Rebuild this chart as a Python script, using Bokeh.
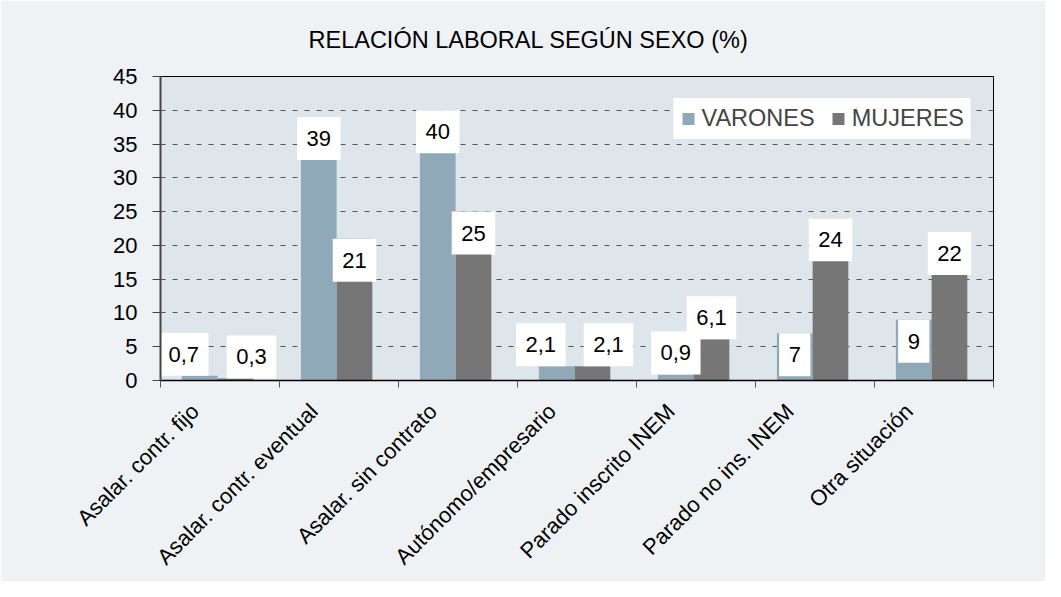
from bokeh.plotting import figure
from bokeh.models import (Range1d, FixedTicker, ColumnDataSource, Title, Legend, LegendItem)
from bokeh.core.properties import value
from bokeh.embed import file_html
from bokeh.resources import INLINE
import math

# ---- data ----
categories = ["Asalar. contr. fijo", "Asalar. contr. eventual", "Asalar. sin contrato",
              "Autónomo/empresario", "Parado inscrito INEM", "Parado no ins. INEM",
              "Otra situación"]
varones = [0.7, 39, 40, 2.1, 0.9, 7, 9]
mujeres = [0.3, 21, 25, 2.1, 6.1, 24, 22]
series_names = ["VARONES", "MUJERES"]
y_ticks = [0, 5, 10, 15, 20, 25, 30, 35, 40, 45]

# ---- style ----
FONT = "Liberation Sans"
C_VAR = "#8FA9B8"
C_MUJ = "#767676"
BG_OUT = "#EEF2F5"
BG_PLOT = "#DEE5EB"
W, H = 1045, 581
ML, MR, MT, MB = 160, 52, 76, 201
FRAME_W = W - ML - MR
FRAME_H = H - MT - MB
YMAX = 45
n = len(categories)
PPU = FRAME_H / YMAX
PPX = FRAME_W / n
BOX_H = 43
PAD_X = 9.5
LBL_PX = 22
OFF_V, OFF_M, BW = -0.17, 0.13, 0.3
CHAR_EM = {",": 0.278, ".": 0.278}

p = figure(width=W, height=H, output_backend="svg", toolbar_location=None,
           x_range=Range1d(0, n), y_range=Range1d(0, YMAX),
           min_border_left=ML, min_border_right=MR, min_border_top=MT, min_border_bottom=MB,
           background_fill_color=BG_PLOT, border_fill_color=BG_OUT,
           outline_line_color="black", outline_line_width=1)

xv = [i + 0.5 + OFF_V for i in range(n)]
xm = [i + 0.5 + OFF_M for i in range(n)]
src = ColumnDataSource(dict(xv=xv, xm=xm, v=varones, m=mujeres))
rv = p.vbar(x="xv", top="v", width=BW, source=src, fill_color=C_VAR, line_color=None)
rm = p.vbar(x="xm", top="m", width=BW, source=src, fill_color=C_MUJ, line_color=None)

# x axis: category names on (invisible) major ticks, boundary marks as minor ticks
LABEL_SHIFT = -0.21
xa = p.xaxis[0]
xa.ticker = FixedTicker(ticks=[i + 0.5 + LABEL_SHIFT for i in range(n)],
                        minor_ticks=list(range(n + 1)))
xa.major_label_overrides = {i + 0.5 + LABEL_SHIFT: c for i, c in enumerate(categories)}
xa.major_label_orientation = math.pi / 4
xa.major_tick_out = 0
xa.major_tick_in = 0
xa.minor_tick_out = 7
xa.minor_tick_in = 0
xa.minor_tick_line_color = "#555555"
xa.axis_line_color = "black"
xa.axis_line_width = 1.5
xa.major_label_text_font = FONT
xa.major_label_text_font_size = "22px"
xa.major_label_text_color = "black"
xa.major_label_standoff = 20

ya = p.yaxis[0]
ya.ticker = FixedTicker(ticks=y_ticks)
ya.major_tick_out = 8
ya.major_tick_in = 0
ya.minor_tick_out = 0
ya.minor_tick_in = 0
ya.major_tick_line_color = "#444444"
ya.axis_line_color = "#444444"
ya.axis_line_width = 2
ya.major_label_text_font = FONT
ya.major_label_text_font_size = "22px"
ya.major_label_text_color = "black"
ya.major_label_standoff = 15

p.xgrid.visible = False
p.ygrid.grid_line_color = "#555555"
p.ygrid.grid_line_dash = "5 7"
p.ygrid.grid_line_width = 1

# title
t = Title(text="RELACIÓN LABORAL SEGÚN SEXO (%)", align="left", offset=148,
          text_font=FONT, text_font_size="23.5px", text_font_style="normal",
          text_color="black", standoff=48)
p.add_layout(t, "above")

# legend
legend = Legend(items=[LegendItem(label=series_names[0], renderers=[rv]),
                       LegendItem(label=series_names[1], renderers=[rm])],
                location="top_right", orientation="horizontal",
                margin=22, padding=6, spacing=16, label_standoff=6,
                glyph_width=15, glyph_height=15,
                label_text_font=FONT, label_text_font_size="23.5px",
                background_fill_color="white", background_fill_alpha=1,
                border_line_color="white", border_line_width=1)
p.add_layout(legend)

# data labels (white boxes)
def fmt(v):
    return f"{v:g}".replace(".", ",")

def text_w(s):
    return sum(CHAR_EM.get(ch, 0.556) for ch in s) * LBL_PX

lx, ly, lw, lt = [], [], [], []
for i in range(n):
    vals = [(xv[i], varones[i]), (xm[i], mujeres[i])]
    outside = [val * PPU < BOX_H for _, val in vals]
    shift = [0, 0]
    if outside[0] and outside[1] and abs(vals[0][1] - vals[1][1]) * PPU < BOX_H / 2:
        shift = [-16, 16]
    for k, (x, val) in enumerate(vals):
        s = fmt(val)
        half = (BOX_H / 2) / PPU
        lx.append(x + shift[k] / PPX)
        ly.append(val + half if outside[k] else val - half)
        lw.append(text_w(s) + 2 * PAD_X)
        lt.append(s)

lsrc = ColumnDataSource(dict(x=lx, y=ly, w=lw, t=lt))
p.rect(x="x", y="y", width="w", height=BOX_H, width_units="screen", height_units="screen",
       source=lsrc, fill_color="white", line_color=None)
p.text(x="x", y="y", text="t", source=lsrc, text_align="center", text_baseline="middle",
       text_font=value(FONT), text_font_size=f"{LBL_PX}px", text_color="black")

open("out.html", "w").write(file_html(p, INLINE))
